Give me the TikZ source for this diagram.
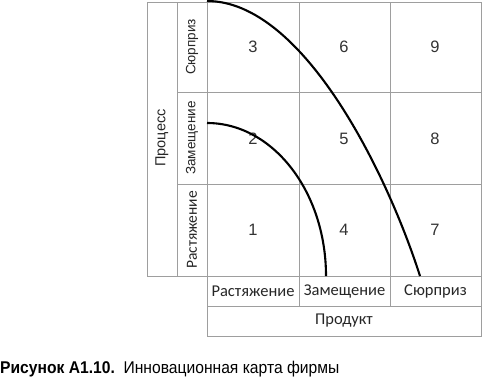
\documentclass[tikz,border=0pt]{standalone}
\usepackage{fontspec}
\setmainfont{Liberation Sans}
\newfontfamily\calfont{Carlito}
\newfontfamily\capfont[FakeStretch=0.92]{Liberation Sans}

\tikzset{
  gridline/.style={draw=black!38, line width=0.8bp},
  curve/.style={line width=2.1bp, black},
  cellnum/.style={font=\fontsize{16.5bp}{19bp}\selectfont, text=black!80},
  rowlab/.style={rotate=90, font=\fontsize{13.5bp}{16bp}\selectfont, text=black!85},
  collab/.style={font=\calfont\fontsize{16.5bp}{19bp}\selectfont, text=black!85}
}

\begin{document}
\begin{tikzpicture}[x=1bp,y=-1bp]
  \useasboundingbox (0,0) rectangle (482,382);

  % Frame and grid
  \draw[gridline] (147,2) rectangle (481,276);
  \draw[gridline] (207,276) rectangle (481,336);
  \draw[gridline] (207,306) -- (481,306);
  \draw[gridline] (177,2) -- (177,276);
  \draw[gridline] (207,2) -- (207,276);
  \draw[gridline] (299,2) -- (299,306);
  \draw[gridline] (390,2) -- (390,306);
  \draw[gridline] (177,92) -- (481,92);
  \draw[gridline] (177,184) -- (481,184);

  % Cell numbers
  \foreach \i in {0,1,2} {
    \foreach \j in {0,1,2} {
      \pgfmathtruncatemacro{\n}{3*\i+3-\j}
      \node[cellnum] (c\n) at (253+91*\i, 47+91.5*\j) {\n};
    }
  }

  % Row and column labels
  \node[rowlab] (rSurp) at (192,47) {Сюрприз};
  \node[rowlab] (rRepl) at (192,138) {Замещение};
  \node[rowlab, font=\calfont\fontsize{15.5bp}{18bp}\selectfont] (rExt) at (192,230) {Растяжение};
  \node[rowlab, font=\fontsize{14.5bp}{17bp}\selectfont] (proc) at (162,138) {Процесс};

  \node[collab] (cExt) at (253,291) {Растяжение};
  \node[collab] (cRepl) at (344.5,291) {Замещение};
  \node[collab] (cSurp) at (435.5,291) {Сюрприз};
  \node[collab] (prod) at (344,321) {Продукт};

  % Curves
  \coordinate (oS) at (207,1);
  \coordinate (oE) at (420,276);
  \coordinate (iS) at (207,123);
  \coordinate (iE) at (326,276);
  \draw[curve] (oS) .. controls (302,1) and (386,170) .. (oE);
  \draw[curve] (iS) .. controls (272.7,123) and (326,191.5) .. (iE);

  % Caption
  \node[anchor=base west, inner sep=0pt, font=\capfont\fontsize{17bp}{20bp}\selectfont] (cap) at (0,373)
    {\textbf{Рисунок А1.10.}\ \ Инновационная карта фирмы};
\end{tikzpicture}
\end{document}
